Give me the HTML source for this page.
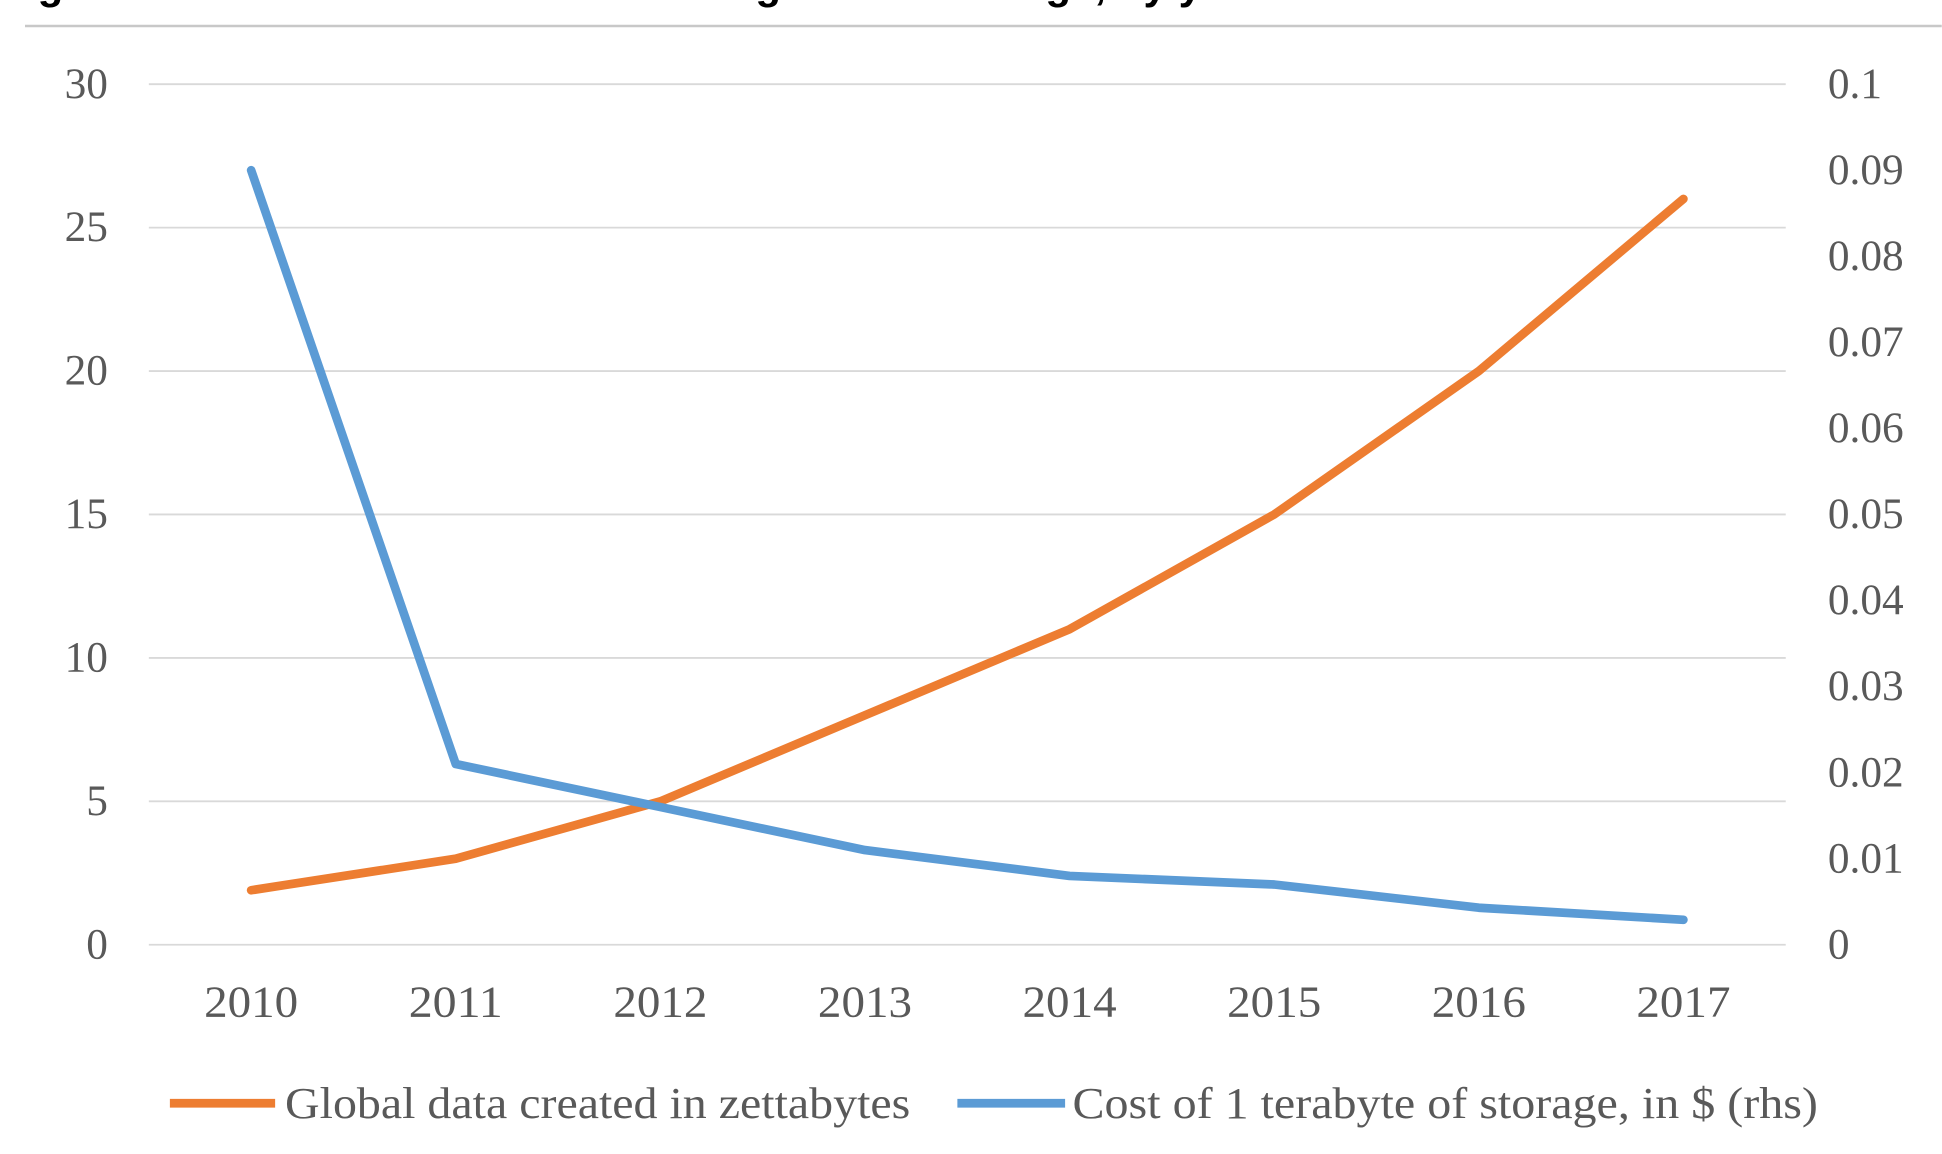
<!DOCTYPE html>
<html><head><meta charset="utf-8"><style>
html,body{margin:0;padding:0;background:#fff;width:1942px;height:1154px;overflow:hidden}
svg{display:block}
text{font-family:"Liberation Serif",serif;fill:#595959}
</style></head><body>
<svg id="chart" width="1942" height="1154" viewBox="0 0 1568 932" xmlns="http://www.w3.org/2000/svg">
<text x="0" y="-1" style="font-family:'Liberation Sans',sans-serif;font-weight:bold;font-size:34px;fill:#000">Figure: Global data creation and falling cost of storage, by year</text>
<line x1="20" y1="21" x2="1568" y2="21" stroke="#c8c8c8" stroke-width="2"/>
<g id="grid"></g><g id="series"></g><g id="axes"></g>
<g>
<line x1="137" y1="891" x2="222" y2="891" stroke="#ED7D31" stroke-width="7"/>
<text x="230" y="903" font-size="36" textLength="505" lengthAdjust="spacingAndGlyphs">Global data created in zettabytes</text>
<line x1="773" y1="891" x2="860" y2="891" stroke="#5B9BD5" stroke-width="7"/>
<text x="866" y="903" font-size="36" textLength="602" lengthAdjust="spacingAndGlyphs">Cost of 1 terabyte of storage, in $ (rhs)</text>
</g>
</svg>
<script>
const categories=["2010","2011","2012","2013","2014","2015","2016","2017"];
const globalData=[1.9,3,5,8,11,15,20,26];
const storageCost=[0.09,0.021,0.016,0.011,0.008,0.007,0.0043,0.0029];
const leftTicks=["0","5","10","15","20","25","30"];
const rightTicks=["0","0.01","0.02","0.03","0.04","0.05","0.06","0.07","0.08","0.09","0.1"];
const NS="http://www.w3.org/2000/svg";
const L=120,R=1442,T=68,B=763;
const yL=v=>B-(v/30)*(B-T);
const yR=v=>B-(v/0.1)*(B-T);
const bw=(R-L)/categories.length;
const x=i=>L+bw*(i+0.5);
function mk(tag,attrs,parent){const e=document.createElementNS(NS,tag);for(const k in attrs)e.setAttribute(k,attrs[k]);document.getElementById(parent).appendChild(e);return e;}
leftTicks.forEach(t=>{const v=+t;
 const g=mk("line",{x1:L,x2:R,y1:yL(v),y2:yL(v),stroke:"#d9d9d9","stroke-width":1.5},"grid");
 
 
 const tx=mk("text",{x:87,y:yL(v)+11,"text-anchor":"end","font-size":35},"axes");tx.textContent=t;
 
 
});
rightTicks.forEach(t=>{const v=+t;
 const tx=mk("text",{x:1476,y:yR(v)+11,"font-size":35},"axes");tx.textContent=t;
 
 
});
categories.forEach((c,i)=>{
 const tx=mk("text",{x:x(i),y:821,"text-anchor":"middle","font-size":36,textLength:76,lengthAdjust:"spacingAndGlyphs"},"axes");tx.textContent=c;
 
 
});
const p1=mk("polyline",{points:globalData.map((v,i)=>x(i)+","+yL(v)).join(" "),fill:"none",stroke:"#ED7D31","stroke-width":7,"stroke-linejoin":"round","stroke-linecap":"round"},"series");


const p2=mk("polyline",{points:storageCost.map((v,i)=>x(i)+","+yR(v)).join(" "),fill:"none",stroke:"#5B9BD5","stroke-width":7,"stroke-linejoin":"round","stroke-linecap":"round"},"series");


</script>
</body></html>
